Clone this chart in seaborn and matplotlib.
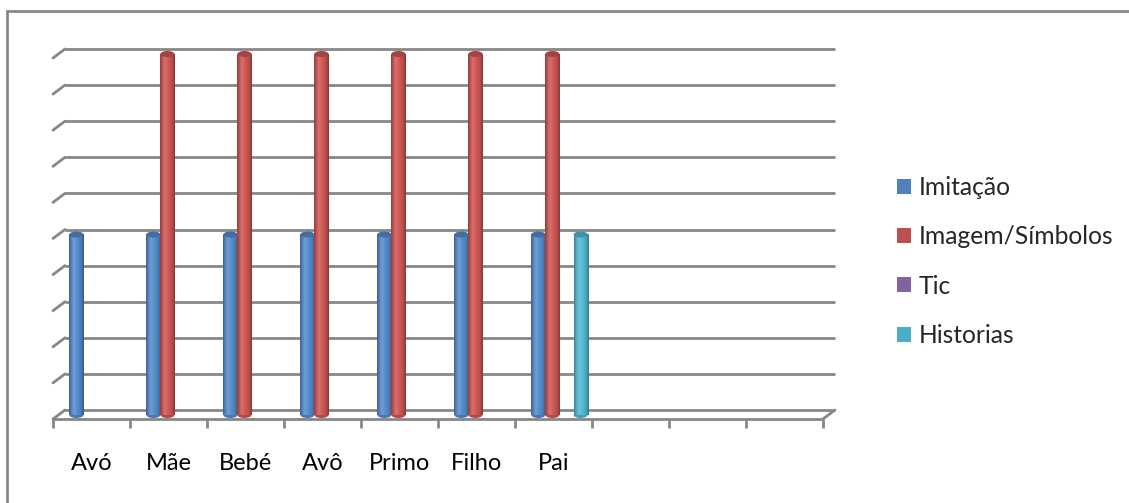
import numpy as np
import pandas as pd
import matplotlib
matplotlib.use("Agg")
import matplotlib.pyplot as plt
from matplotlib.colors import to_rgb
from matplotlib.lines import Line2D
from matplotlib.patches import Patch, Ellipse
import seaborn as sns

# ---- data -------------------------------------------------------------
categories = ["Avó", "Mãe", "Bebé", "Avô", "Primo", "Filho", "Pai", "", "", ""]
series = ["Imitação", "Imagem/Símbolos", "Tic", "Historias"]
imitacao = [5, 5, 5, 5, 5, 5, 5, 0, 0, 0]
imagem_simbolos = [0, 10, 10, 10, 10, 10, 10, 0, 0, 0]
tic = [0, 0, 0, 0, 0, 0, 0, 0, 0, 0]
historias = [0, 0, 0, 0, 0, 0, 5, 0, 0, 0]
gridline_levels = [0, 1, 2, 3, 4, 5, 6, 7, 8, 9, 10]

colors = ["#4F81BD", "#C0504D", "#8064A2", "#4BACC6"]
grid_color = "#878787"

rows = []
for name, values in zip(series, [imitacao, imagem_simbolos, tic, historias]):
    for pos, v in enumerate(values):
        rows.append({"pos": pos, "series": name, "value": v})
df = pd.DataFrame(rows)

sns.set_theme(style="white")
plt.rcParams["font.family"] = ["Lato", "DejaVu Sans"]

W, H = 1129, 503
fig = plt.figure(figsize=(W / 100, H / 100), dpi=100)
fig.patch.set_facecolor("white")
ax = fig.add_axes([59 / W, 88 / H, 770 / W, 361 / H])

sns.barplot(data=df, x="pos", y="value", hue="series", hue_order=series,
            order=list(range(len(categories))), palette=colors, width=0.73,
            saturation=1, errorbar=None, legend=False, ax=ax)

n = len(categories)
ax.set_xlim(-0.5, n - 0.5)
ax.set_ylim(0, 10)
for s in ax.spines.values():
    s.set_visible(False)
ax.set_xticks([])
ax.set_yticks([])
ax.set_xlabel("")
ax.set_ylabel("")
ax.set_facecolor("none")

# pixel -> data conversion for the pseudo-3D depth offsets
px_x = ax.bbox.width / n
px_y = ax.bbox.height / 10
dx_back, dy_back = 6 / px_x, 5 / px_y      # back wall
dx_front, dy_front = -6 / px_x, -4 / px_y  # front floor edge
lw = 2.0

# back-wall gridlines with their left-hand depth stubs
for lv in gridline_levels:
    ax.plot([-0.5 + dx_back, n - 0.5 + dx_back], [lv + dy_back] * 2,
            color=grid_color, lw=lw, zorder=0.5, clip_on=False,
            solid_capstyle="butt")
    ax.plot([-0.5 + dx_front, -0.5 + dx_back], [lv + dy_front, lv + dy_back],
            color=grid_color, lw=lw, zorder=0.5, clip_on=False,
            solid_capstyle="round")

# floor: front edge, right depth edge and category tick marks
ax.plot([-0.5 + dx_front, n - 0.5 + dx_front], [dy_front] * 2,
        color=grid_color, lw=lw, zorder=5, clip_on=False, solid_capstyle="butt")
ax.plot([n - 0.5 + dx_front, n - 0.5 + dx_back], [dy_front, dy_back],
        color=grid_color, lw=lw, zorder=0.5, clip_on=False)
for k in range(n + 1):
    x = -0.5 + k + dx_front
    ax.plot([x, x], [dy_front, dy_front - 9 / px_y], color=grid_color, lw=lw,
            zorder=5, clip_on=False, solid_capstyle="butt")

# category labels under the front floor edge
for i, lab in enumerate(categories):
    ax.text(i + dx_front, -55 / px_y, lab, ha="center", va="baseline",
            fontsize=17, color="black", clip_on=False)

# cylinder shading on each bar
t = np.linspace(0, 1, 80)
shade = 0.72 + 0.36 * np.sin(np.pi * np.clip(t * 1.05, 0, 1)) ** 0.6
glow = 0.15 * np.exp(-((t - 0.33) / 0.16) ** 2)
cap_h = 6 / px_y
for cont in ax.containers:
    for bar in cont:
        h = bar.get_height()
        if h <= 0:
            continue
        x0, w = bar.get_x(), bar.get_width()
        base = np.array(to_rgb(bar.get_facecolor()))
        img = base[None, :] * shade[:, None]
        img = img + (1 - img) * glow[:, None]
        img = np.clip(img, 0, 1)
        ax.add_patch(Ellipse((x0 + w / 2, 0), w, cap_h, color=base * 0.92,
                             zorder=2, clip_on=False, lw=0))
        ax.imshow(img[None, :, :], extent=(x0, x0 + w, 0, h), aspect="auto",
                  interpolation="bilinear", zorder=3, clip_on=False)
        ax.add_patch(Ellipse((x0 + w / 2, h), w, cap_h, color=base * 0.85,
                             zorder=4, clip_on=False, lw=0))
        bar.set_visible(False)
ax.set_xlim(-0.5, n - 0.5)
ax.set_ylim(0, 10)

# legend
handles = [Patch(facecolor=c, edgecolor="none", label=s) for c, s in zip(colors, series)]
fig.legend(handles=handles, loc="upper left", bbox_to_anchor=(897 / W, 1 - 176 / H),
           frameon=False, fontsize=17.7, handlelength=0.57, handleheight=0.57,
           handletextpad=0.3, labelspacing=1.07, borderpad=0, borderaxespad=0)

# chart frame (only the top and left edges fall inside the canvas)
fig.add_artist(Line2D([7 / W, 1.01], [1 - 11 / H] * 2, transform=fig.transFigure,
                      color=grid_color, lw=2))
fig.add_artist(Line2D([7 / W, 7 / W], [1 - 11 / H, -0.01], transform=fig.transFigure,
                      color=grid_color, lw=2))

fig.savefig("out.png", dpi=100, facecolor="white")
